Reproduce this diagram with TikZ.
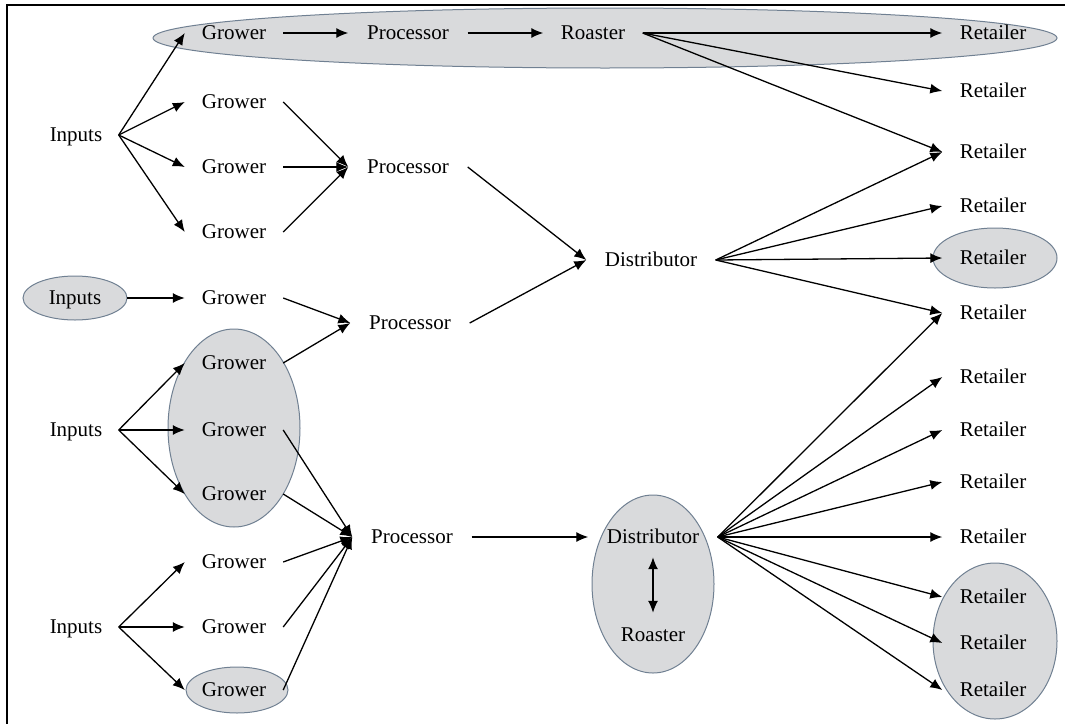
\documentclass[tikz,border=0pt]{standalone}
\usepackage{fontspec}
\setmainfont{Liberation Serif}
\usetikzlibrary{arrows.meta}
\definecolor{grpfill}{RGB}{217,218,220}
\definecolor{grpline}{RGB}{112,128,146}

\begin{document}
\begin{tikzpicture}[x=1pt, y=-1pt,
			>={Latex[length=12pt,width=10pt]},   %Pfeilspitzen
			lbl/.style={inner sep=0pt, text height=16pt, text depth=4pt},
			input/.style={lbl, minimum width=85pt},
			grower/.style={lbl, minimum width=98pt},
			proc/.style={lbl, minimum width=119pt},
			roast/.style={lbl, minimum width=99pt},
			dist/.style={lbl, minimum width=129pt},
			retail/.style={lbl, minimum width=101pt},
			grp/.style={fill=grpfill, draw=grpline, line width=1pt},
			pfeil/.style={->, line width=1.3pt},
			font=\fontsize{21}{25}\selectfont]
			%Rahmen
			\useasboundingbox (0,0) rectangle (1065,723);
			\draw[line width=2.5pt] (7,740) |- (1080,5);
			%Gruppen zeichnen
			\draw[grp] (605,38) ellipse [x radius=452, y radius=30];
			\draw[grp] (75,298) ellipse [x radius=52, y radius=22];
			\draw[grp] (234,428) ellipse [x radius=66, y radius=99];
			\draw[grp] (237,690) ellipse [x radius=51, y radius=23];
			\draw[grp] (653,584) ellipse [x radius=61, y radius=89];
			\draw[grp] (995,258) ellipse [x radius=62, y radius=30];
			\draw[grp] (995,641) ellipse [x radius=62, y radius=78];
			%Knoten
			\node[input] (in1) at (76,135) {Inputs};
			\node[input, minimum width=104pt] (in2) at (75,298) {Inputs};
			\node[input] (in3) at (76,430) {Inputs};
			\node[input] (in4) at (76,627) {Inputs};
			\foreach \y [count=\i] in {33,102,167,232,298,363,430,494,562,627,690}
				\node[grower] (g\i) at (234,\y) {Grower};
			\node[proc] (p1) at (408,33) {Processor};
			\node[proc] (p2) at (408,167) {Processor};
			\node[proc] (p3) at (410,323) {Processor};
			\node[proc] (p4) at (412,537) {Processor};
			\node[roast] (r1) at (593,33) {Roaster};
			\node[roast] (r2) at (653,635) {Roaster};
			\node[dist] (d1) at (651,260) {Distributor};
			\node[dist] (d2) at (653,537) {Distributor};
			\foreach \y [count=\i] in {33,91,152,206,258,313,377,430,482,537,597,643,690}
				\node[retail] (ret\i) at (993,\y) {Retailer};
			%Pfeile zeichnen
			\foreach \g in {1,2,3,4} \draw[pfeil] (in1.east) -- (g\g.west);
			\draw[pfeil] (in2.east) -- (g5.west);
			\foreach \g in {6,7,8} \draw[pfeil] (in3.east) -- (g\g.west);
			\foreach \g in {9,10,11} \draw[pfeil] (in4.east) -- (g\g.west);
			\draw[pfeil] (g1.east) -- (p1.west);
			\draw[pfeil] (p1.east) -- (r1.west);
			\foreach \r in {1,2,3} \draw[pfeil] (r1.east) -- (ret\r.west);
			\foreach \g in {2,3,4} \draw[pfeil] (g\g.east) -- (p2.west);
			\foreach \g in {5,6} \draw[pfeil] (g\g.east) -- (p3.west);
			\foreach \g in {7,...,11} \draw[pfeil] (g\g.east) -- (p4.west);
			\draw[pfeil] (p2.east) -- (d1.west);
			\draw[pfeil] (p3.east) -- (d1.west);
			\foreach \r in {3,...,6} \draw[pfeil] (d1.east) -- (ret\r.west);
			\draw[pfeil] (p4.east) -- (d2.west);
			\draw[pfeil, <->, shorten <=10pt, shorten >=12pt] (d2) -- (r2);
			\foreach \r in {6,...,13} \draw[pfeil] (d2.east) -- (ret\r.west);
		\end{tikzpicture}
\end{document}
